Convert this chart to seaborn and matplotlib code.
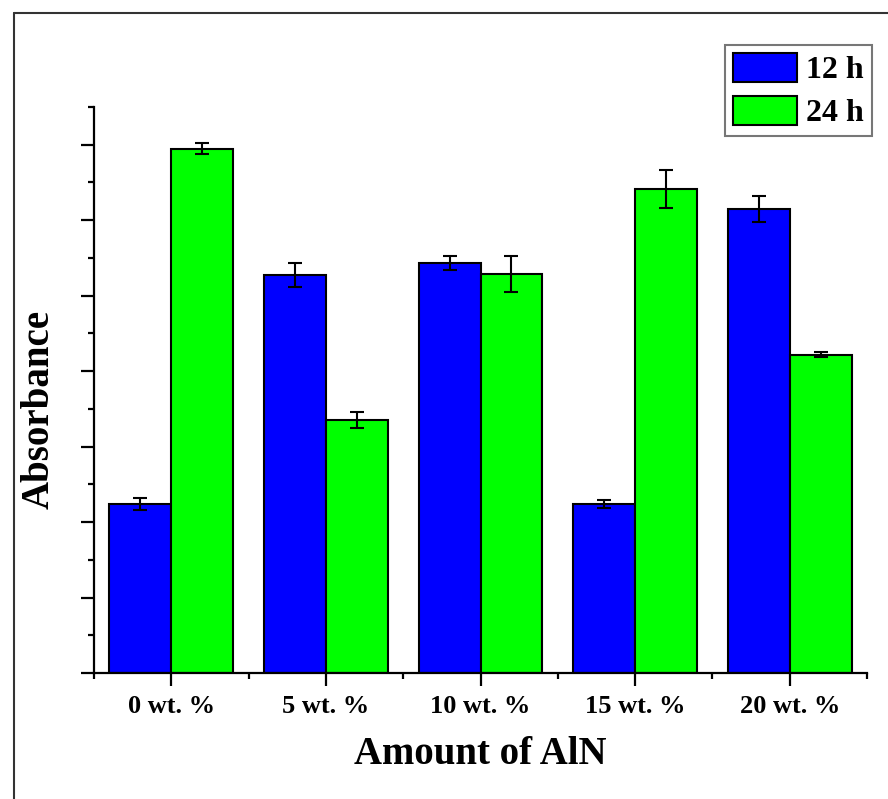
import matplotlib
matplotlib.use("Agg")
import matplotlib.pyplot as plt
from matplotlib.lines import Line2D
from matplotlib.ticker import MultipleLocator, NullFormatter
import numpy as np
import pandas as pd
import seaborn as sns

# Absorbance for each AlN loading after 12 h and 24 h
amounts = ["0 wt. %", "5 wt. %", "10 wt. %", "15 wt. %", "20 wt. %"]
times = ["12 h", "24 h"]
absorb_12h = [2.24, 5.27, 5.43, 2.24, 6.15]
absorb_24h = [6.95, 3.35, 5.29, 6.41, 4.22]
err_12h = [0.077, 0.16, 0.093, 0.053, 0.17]
err_24h = [0.075, 0.106, 0.24, 0.25, 0.033]
bar_colors = ["#0000FF", "#00FF00"]

df = pd.DataFrame({
    "amount": amounts * 2,
    "time": [times[0]] * len(amounts) + [times[1]] * len(amounts),
    "absorbance": absorb_12h + absorb_24h,
    "err": err_12h + err_24h,
})

sns.set_theme(style="ticks")
plt.rcParams["font.family"] = ["Liberation Serif", "DejaVu Serif"]
plt.rcParams["font.weight"] = "bold"
plt.rcParams["text.color"] = "black"
plt.rcParams["axes.labelcolor"] = "black"
plt.rcParams["xtick.color"] = "black"
plt.rcParams["ytick.color"] = "black"

fig = plt.figure(figsize=(8.88, 7.99), dpi=100)
ax = fig.add_axes([94 / 888, 1 - 673 / 799, (867 - 94) / 888, (673 - 107) / 799])

sns.barplot(data=df, x="amount", y="absorbance", hue="time", order=amounts,
            hue_order=times, palette=bar_colors, errorbar=None, width=0.8,
            edgecolor="black", linewidth=1.5, saturation=1, ax=ax)

# error bars placed at the centre/top of each drawn bar
bars = [p for p in ax.patches if p.get_height() > 0]
errs = err_12h + err_24h
for p, e in zip(bars, errs):
    ax.errorbar(p.get_x() + p.get_width() / 2, p.get_height(), yerr=e,
                fmt="none", ecolor="black", elinewidth=1.5, capsize=5,
                capthick=1.5, zorder=5)

ax.set_xlim(-0.5, 4.5)
ax.set_ylim(0, 7.5)
ax.yaxis.set_major_locator(MultipleLocator(1))
ax.yaxis.set_minor_locator(MultipleLocator(0.5))
ax.yaxis.set_major_formatter(NullFormatter())
ax.xaxis.set_minor_locator(MultipleLocator(1, offset=0.5))

for s in ["top", "right"]:
    ax.spines[s].set_visible(False)
for s in ["left", "bottom"]:
    ax.spines[s].set_linewidth(1.6)
    ax.spines[s].set_color("black")

ax.tick_params(axis="both", which="major", length=9.5, width=1.6,
               direction="out", color="black")
ax.tick_params(axis="both", which="minor", length=4.5, width=1.6,
               direction="out", color="black")
ax.tick_params(axis="x", which="major", labelsize=19, pad=6, labelcolor="black")
for lbl in ax.get_xticklabels():
    lbl.set_fontweight("bold")

ax.set_xlabel("Amount of AlN", fontsize=28, fontweight="bold", color="black")
ax.set_ylabel("Absorbance", fontsize=28, fontweight="bold", color="black")
ax.xaxis.set_label_coords(0.5, -0.112)
ax.yaxis.set_label_coords(-0.047, 0.466)

ax.legend_.remove()
handles = [plt.Rectangle((0, 0), 1, 1, facecolor=c, edgecolor="black", linewidth=1.5)
           for c in bar_colors]
leg = fig.legend(handles, times, loc="upper right",
                 bbox_to_anchor=(872 / 888, 1 - 45 / 799), borderaxespad=0,
                 prop={"family": ["Liberation Serif"], "weight": "bold", "size": 23},
                 frameon=True, fancybox=False, handlelength=2.0, handleheight=1.0,
                 labelspacing=0.34, borderpad=0.25, handletextpad=0.3)
leg.get_frame().set_edgecolor("#555555")
leg.get_frame().set_linewidth(1.5)
for t in leg.get_texts():
    t.set_color("black")

# outer frame around the figure (top and left edges visible)
fig.add_artist(Line2D([14 / 888, 14 / 888], [0, 1 - 13 / 799],
                      transform=fig.transFigure, color="#333333", lw=1.5))
fig.add_artist(Line2D([14 / 888, 1], [1 - 13 / 799, 1 - 13 / 799],
                      transform=fig.transFigure, color="#333333", lw=1.5))

fig.savefig("out.png", dpi=100, facecolor="white")
